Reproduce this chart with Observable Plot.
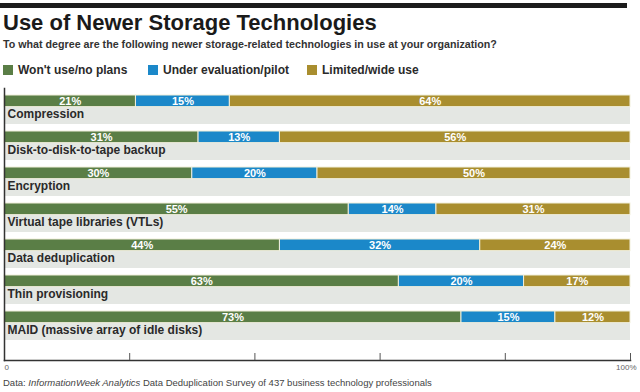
<!DOCTYPE html>
<html>
<head>
<meta charset="utf-8">
<script src="https://cdn.jsdelivr.net/npm/d3@7"></script>
<script src="https://cdn.jsdelivr.net/npm/@observablehq/plot@0.6"></script>
<style>
  html, body { margin: 0; padding: 0; background: #fff; }
  body { width: 640px; height: 392px; position: relative; overflow: hidden; font-family: "Liberation Sans", Arial, sans-serif; }
  #topbar { position: absolute; left: 0; top: 3px; width: 627px; height: 5px; background: #1c1c1c; }
  #title { position: absolute; left: 3px; top: 10px; font-size: 22px; font-weight: bold; color: #1a1a1a; white-space: nowrap; }
  #subtitle { position: absolute; left: 3px; top: 38px; font-size: 10.7px; font-weight: bold; color: #333; white-space: nowrap; }
  #legend { position: absolute; left: 3px; top: 63px; font-size: 12px; font-weight: bold; color: #2a2a2a; white-space: nowrap; }
  .item { position: absolute; top: 0; white-space: nowrap; }
  .sw { display: inline-block; width: 10px; height: 10px; vertical-align: -1px; margin-right: 5px; }
  #chart { position: absolute; left: 0; top: 84px; }
  #caption { position: absolute; left: 3px; top: 377px; font-size: 9.5px; color: #444; white-space: nowrap; }
</style>
</head>
<body>
<div id="topbar"></div>
<div id="title"></div>
<div id="subtitle"></div>
<div id="legend"></div>
<div id="chart"></div>
<div id="caption"></div>
<script>
const titleText = "Use of Newer Storage Technologies";
const subtitleText = "To what degree are the following newer storage-related technologies in use at your organization?";
const categories = [
  "Compression",
  "Disk-to-disk-to-tape backup",
  "Encryption",
  "Virtual tape libraries (VTLs)",
  "Data deduplication",
  "Thin provisioning",
  "MAID (massive array of idle disks)"
];
const statuses = ["Won't use/no plans", "Under evaluation/pilot", "Limited/wide use"];
const colors = ["#5a7e46", "#1b88c9", "#a98e2f"];
const wontUse = [21, 31, 30, 55, 44, 63, 73];
const underEval = [15, 13, 20, 14, 32, 20, 15];
const limitedUse = [64, 56, 50, 31, 24, 17, 12];
const axisTicks = [0, 20, 40, 60, 80, 100];
const axisLabels = ["0", "100%"];

document.getElementById("title").textContent = titleText;
document.getElementById("subtitle").textContent = subtitleText;
document.getElementById("caption").innerHTML = "Data: <i>InformationWeek Analytics</i> Data Deduplication Survey of 437 business technology professionals";

const legendX = [0, 145, 304];
const leg = document.getElementById("legend");
statuses.forEach((s, i) => {
  const it = document.createElement("span");
  it.className = "item";
  it.style.left = legendX[i] + "px";
  const sw = document.createElement("span");
  sw.className = "sw";
  sw.style.background = colors[i];
  it.appendChild(sw);
  it.appendChild(document.createTextNode(s));
  leg.appendChild(it);
});

const series = [wontUse, underEval, limitedUse];
const rows = [];
categories.forEach((c, ci) => {
  statuses.forEach((s, si) => {
    rows.push({cat: c, status: s, value: series[si][ci]});
  });
});

const height = 288;
const yRange = [8, 266];
const bw = (yRange[1] - yRange[0]) / categories.length;
const barH = 12.5;

const chart = Plot.plot({
  width: 640,
  height,
  marginLeft: 4,
  marginRight: 10,
  marginTop: 4,
  marginBottom: 12,
  style: {fontFamily: "'Liberation Sans', Arial, sans-serif", background: "transparent"},
  x: {domain: [0, 100], axis: null},
  y: {domain: categories, range: yRange, padding: 0, axis: null},
  color: {domain: statuses, range: colors},
  marks: [
    Plot.barX(categories, {x1: 0, x2: 100, y: d => d, fill: "#e4e7e3", insetBottom: 7}),
    Plot.barX(rows, {x: "value", y: "cat", fill: "status", insetBottom: bw - barH, stroke: "#f1efdc", strokeWidth: 1}),
    Plot.text(rows, Plot.stackX({x: "value", y: "cat", z: "status", text: d => d.value + "%", fill: "white", fontWeight: "bold", fontSize: 11, dy: -(bw / 2 - barH / 2)})),
    Plot.text(categories, {x: 0, y: d => d, text: d => d, textAnchor: "start", dx: 3, dy: 1, fontSize: 12, fontWeight: "bold", fill: "#2a2a2a"}),
    Plot.frame({anchor: "left", stroke: "#333", strokeWidth: 1.5}),
    Plot.frame({anchor: "bottom", stroke: "#333", strokeWidth: 1.5}),
    Plot.axisX({ticks: axisTicks.slice(1), tickSize: -7, tickFormat: () => "", label: null, stroke: "#555"}),
    Plot.text([axisTicks[0]], {x: d => d, frameAnchor: "bottom", dy: 9, text: () => axisLabels[0], textAnchor: "start", fontSize: 8, fill: "#666"}),
    Plot.text([axisTicks[axisTicks.length - 1]], {x: d => d, frameAnchor: "bottom", dy: 9, text: () => axisLabels[1], textAnchor: "end", dx: 6, fontSize: 8, fill: "#666"})
  ]
});
document.getElementById("chart").appendChild(chart);
</script>
</body>
</html>
